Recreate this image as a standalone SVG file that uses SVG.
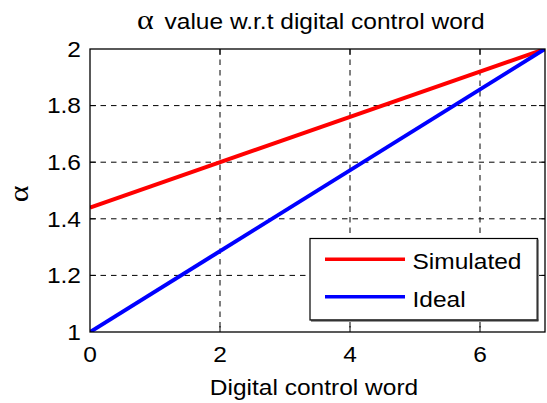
<svg xmlns="http://www.w3.org/2000/svg" width="547" height="403" viewBox="0 0 547 403">
  <style>
    .t { font-family: "Liberation Sans", Arial, Helvetica, sans-serif; font-size: 21.5px; fill: #000; }
    .greek { font-family: "Liberation Serif", "Times New Roman", serif; font-size: 28px; fill: #000; }
    .mid { text-anchor: middle; }
    .end { text-anchor: end; }
    .grid line { stroke: #000; stroke-width: 1; stroke-dasharray: 5.5 5; }
    .tick line { stroke: #000; stroke-width: 1; }
    .frame { fill: none; stroke: #000; stroke-width: 1.3; }
  </style>
  <defs>
    <clipPath id="plotArea">
      <rect x="90" y="49" width="455" height="283"/>
    </clipPath>
  </defs>

  <rect width="547" height="403" fill="#fff"/>

  <!-- dashed grid: x = 0..7 at 65 px/unit, y = 1..2 at 283 px/unit -->
  <g id="grid" class="grid">
    <line x1="220" y1="49" x2="220" y2="332"/>
    <line x1="350" y1="49" x2="350" y2="332"/>
    <line x1="480" y1="49" x2="480" y2="332"/>
    <line x1="90" y1="105.6" x2="545" y2="105.6"/>
    <line x1="90" y1="162.2" x2="545" y2="162.2"/>
    <line x1="90" y1="218.8" x2="545" y2="218.8"/>
    <line x1="90" y1="275.4" x2="545" y2="275.4"/>
  </g>

  <!-- tick marks, drawn inward on all four sides -->
  <g id="ticks" class="tick">
    <line x1="220" y1="332" x2="220" y2="326"/>
    <line x1="350" y1="332" x2="350" y2="326"/>
    <line x1="480" y1="332" x2="480" y2="326"/>
    <line x1="220" y1="49" x2="220" y2="55"/>
    <line x1="350" y1="49" x2="350" y2="55"/>
    <line x1="480" y1="49" x2="480" y2="55"/>
    <line x1="90" y1="105.6" x2="96" y2="105.6"/>
    <line x1="90" y1="162.2" x2="96" y2="162.2"/>
    <line x1="90" y1="218.8" x2="96" y2="218.8"/>
    <line x1="90" y1="275.4" x2="96" y2="275.4"/>
    <line x1="545" y1="105.6" x2="539" y2="105.6"/>
    <line x1="545" y1="162.2" x2="539" y2="162.2"/>
    <line x1="545" y1="218.8" x2="539" y2="218.8"/>
    <line x1="545" y1="275.4" x2="539" y2="275.4"/>
  </g>

  <!-- data series -->
  <g id="connectors" clip-path="url(#plotArea)" fill="none" stroke-width="4">
    <line id="simulated" x1="90" y1="207.5" x2="545" y2="49" stroke="#ff0000"/>
    <line id="ideal" x1="90" y1="332" x2="545" y2="49" stroke="#0000ff"/>
  </g>

  <!-- axes box -->
  <rect id="axes" class="frame" x="90" y="49" width="455" height="283"/>

  <!-- tick labels -->
  <g id="xticklabels" class="t mid">
    <text transform="translate(90,362) scale(1.14,1)">0</text>
    <text transform="translate(220,362) scale(1.14,1)">2</text>
    <text transform="translate(350,362) scale(1.14,1)">4</text>
    <text transform="translate(480,362) scale(1.14,1)">6</text>
  </g>
  <g id="yticklabels" class="t end">
    <text transform="translate(81,56.8) scale(1.14,1)">2</text>
    <text transform="translate(81,113.4) scale(1.14,1)">1.8</text>
    <text transform="translate(81,170) scale(1.14,1)">1.6</text>
    <text transform="translate(81,226.6) scale(1.14,1)">1.4</text>
    <text transform="translate(81,283.2) scale(1.14,1)">1.2</text>
    <text transform="translate(81,339.8) scale(1.14,1)">1</text>
  </g>

  <!-- axis labels and title -->
  <g id="xlabel">
    <text class="t mid" transform="translate(314,395) scale(1.14,1)">Digital control word</text>
  </g>
  <g id="ylabel">
    <text class="greek mid" transform="translate(28,194) rotate(-90) scale(1.14,1)">α</text>
  </g>
  <g id="title">
    <text class="greek" transform="translate(137,29) scale(1.14,1)">α</text>
    <text class="t" transform="translate(164.5,29) scale(1.14,1)">value w.r.t digital control word</text>
  </g>

  <!-- legend -->
  <g id="legend">
    <rect x="310" y="238.5" width="227.5" height="81.5" fill="#fff" stroke="#000" stroke-width="1.2"/>
    <line x1="537.5" y1="239.5" x2="537.5" y2="320.5" stroke="#333" stroke-width="2"/>
    <line x1="311" y1="320.5" x2="538.5" y2="320.5" stroke="#333" stroke-width="2"/>
    <line x1="325" y1="259.3" x2="405" y2="259.3" stroke="#ff0000" stroke-width="3.6"/>
    <line x1="325" y1="296.7" x2="405" y2="296.7" stroke="#0000ff" stroke-width="3.6"/>
    <text class="t" transform="translate(412.5,269) scale(1.14,1)">Simulated</text>
    <text class="t" transform="translate(412.5,306.5) scale(1.14,1)">Ideal</text>
  </g>
</svg>
